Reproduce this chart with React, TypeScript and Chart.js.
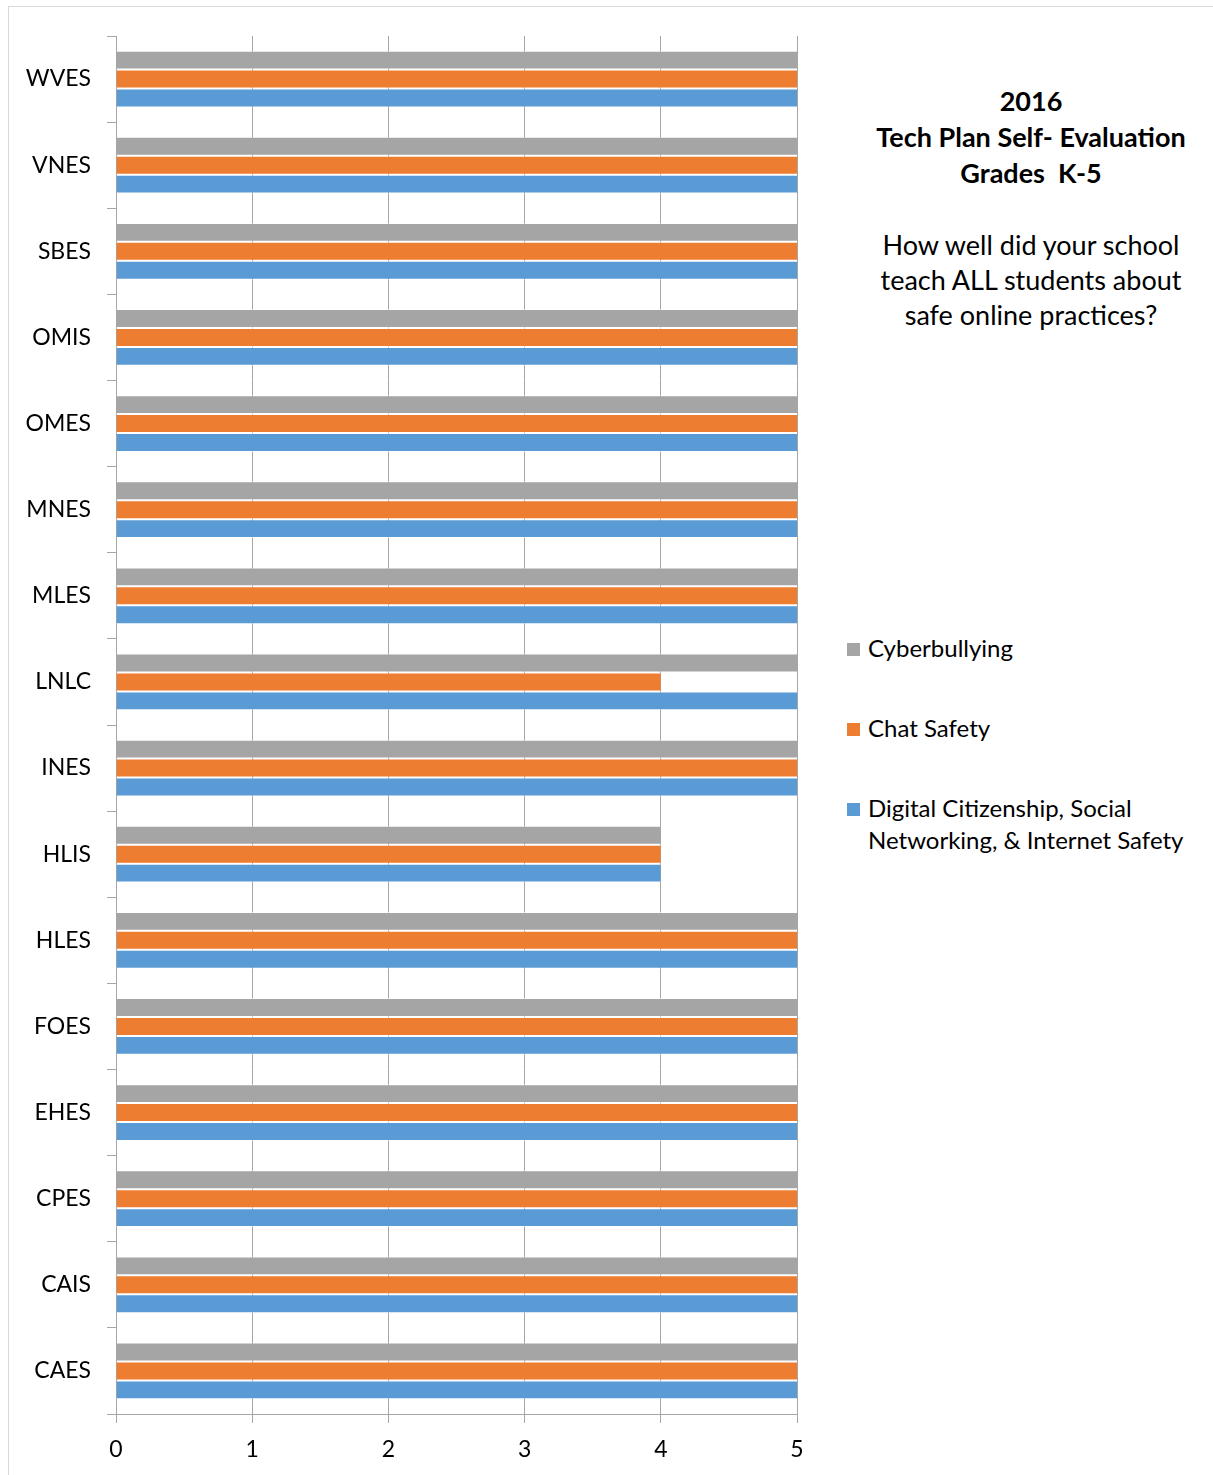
import React, { useEffect, useRef } from "react";
import { Chart, registerables } from "chart.js";

Chart.register(...registerables);

const schools = [
  "WVES", "VNES", "SBES", "OMIS", "OMES", "MNES", "MLES", "LNLC",
  "INES", "HLIS", "HLES", "FOES", "EHES", "CPES", "CAIS", "CAES",
];
const cyberbullying = [5, 5, 5, 5, 5, 5, 5, 5, 5, 4, 5, 5, 5, 5, 5, 5];
const chatSafety = [5, 5, 5, 5, 5, 5, 5, 4, 5, 4, 5, 5, 5, 5, 5, 5];
const digitalCitizenship = [5, 5, 5, 5, 5, 5, 5, 5, 5, 4, 5, 5, 5, 5, 5, 5];
const xTicks = [0, 1, 2, 3, 4, 5];

const seriesNames = [
  "Cyberbullying",
  "Chat Safety",
  "Digital Citizenship, Social Networking, & Internet Safety",
];
const seriesColors = ["#A5A5A5", "#ED7D31", "#5B9BD5"];

const titleLines = ["2016", "Tech Plan Self- Evaluation", "Grades\u00a0\u00a0K-5"];
const questionLines = [
  "How well did your school",
  "teach ALL students about",
  "safe online practices?",
];

const FONT = "Lato, Carlito, Calibri, 'Open Sans', sans-serif";

export default function App() {
  const canvasRef = useRef<HTMLCanvasElement | null>(null);

  useEffect(() => {
    const canvas = canvasRef.current;
    if (!canvas) return;
    const values = [cyberbullying, chatSafety, digitalCitizenship];
    const chart = new Chart(canvas, {
      type: "bar",
      data: {
        labels: schools,
        datasets: seriesNames.map((name, i) => ({
          label: name,
          data: values[i],
          backgroundColor: seriesColors[i],
          borderColor: "rgba(255,255,255,0.5)",
          borderWidth: { top: 1, bottom: 1, left: 0, right: 0 },
          borderSkipped: false,
          categoryPercentage: 0.66,
          barPercentage: 1,
        })),
      },
      options: {
        indexAxis: "y",
        responsive: false,
        animation: false,
        maintainAspectRatio: false,
        layout: { padding: { top: 30, right: 31, left: 0, bottom: 0 } },
        plugins: {
          legend: { display: false },
          tooltip: { enabled: false },
          title: { display: false },
        },
        scales: {
          x: {
            min: 0,
            max: 5,
            afterBuildTicks: (scale: any) => {
              scale.ticks = xTicks.map((v) => ({ value: v }));
            },
            afterFit: (scale: any) => {
              scale.height = 60;
            },
            grid: {
              color: "#A6A6A6",
              lineWidth: 1,
              drawTicks: true,
              tickLength: 9,
              tickColor: "#A6A6A6",
            },
            border: { display: true, color: "#A6A6A6", width: 1 },
            ticks: {
              color: "#000",
              padding: 13,
              font: { family: FONT, size: 23 },
            },
          },
          y: {
            afterFit: (scale: any) => {
              scale.width = 108;
            },
            grid: {
              drawOnChartArea: false,
              drawTicks: true,
              tickLength: 9,
              color: "#A6A6A6",
              tickColor: "#A6A6A6",
              offset: true,
            },
            border: { display: true, color: "#A6A6A6", width: 1 },
            ticks: {
              color: "#000",
              padding: 16,
              font: { family: FONT, size: 23 },
            },
          },
        },
      },
    });
    return () => chart.destroy();
  }, []);

  return (
    <div
      style={{
        position: "absolute",
        left: 8,
        top: 6,
        width: 1210,
        height: 1475,
        border: "1px solid #D9D9D9",
        boxSizing: "border-box",
        background: "#fff",
        fontFamily: FONT,
        color: "#000",
      }}
    >
      <canvas
        ref={canvasRef}
        width={820}
        height={1468}
        style={{ position: "absolute", left: -1, top: -1, width: 820, height: 1468 }}
      />
      <div
        style={{
          position: "absolute",
          left: 842,
          top: 76,
          width: 360,
          textAlign: "center",
        }}
      >
        {titleLines.map((t) => (
          <div key={t} style={{ fontWeight: 700, fontSize: 27, lineHeight: "36px" }}>
            {t}
          </div>
        ))}
        <div style={{ height: 36 }} />
        {questionLines.map((t) => (
          <div key={t} style={{ fontSize: 27, lineHeight: "35px" }}>
            {t}
          </div>
        ))}
      </div>
      <div style={{ position: "absolute", left: 838, top: 625 }}>
        {seriesNames.map((name, i) => (
          <div
            key={name}
            style={{
              display: "flex",
              alignItems: "flex-start",
              marginBottom: i < 2 ? 48 : 0,
              fontSize: 24,
              lineHeight: "32px",
            }}
          >
            <span
              style={{
                display: "inline-block",
                width: 13,
                height: 13,
                background: seriesColors[i],
                marginTop: 11,
                marginRight: 8,
                flex: "none",
              }}
            />
            <span style={{ width: 350, whiteSpace: "nowrap" }}>
              {i === 2 ? (
                <>
                  Digital Citizenship, Social
                  <br />
                  Networking, &amp; Internet Safety
                </>
              ) : (
                name
              )}
            </span>
          </div>
        ))}
      </div>
    </div>
  );
}
